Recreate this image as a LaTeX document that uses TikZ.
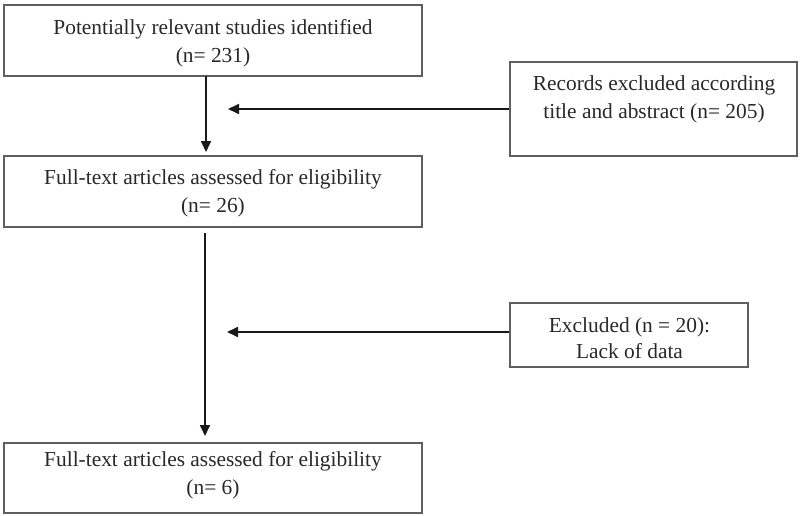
\documentclass[tikz,border=0pt]{standalone}
\usepackage{fontspec}
\setmainfont{Liberation Serif}
\usetikzlibrary{arrows.meta}
\definecolor{boxgray}{RGB}{95,95,95}
\definecolor{txtgray}{RGB}{40,40,40}
\definecolor{linegray}{RGB}{25,25,25}
\begin{document}
\begin{tikzpicture}[x=1pt,y=-1pt,
  box/.style={draw=boxgray, line width=1.8pt, inner sep=0pt, fill=none},
  txt/.style={align=center, inner sep=0pt, text=txtgray, font=\fontsize{21.4}{28}\selectfont},
  conn/.style={draw=linegray, line width=1.7pt, -{Triangle[length=11pt,width=10pt]}}]
\useasboundingbox (0,0) rectangle (800,516);
% boxes
\node[box, minimum width=418, minimum height=71] (b1) at (213,40.5) {};
\node[box, minimum width=287, minimum height=94] (b2) at (653.5,109) {};
\node[box, minimum width=418, minimum height=71] (b3) at (213,191.5) {};
\node[box, minimum width=238, minimum height=64] (b4) at (629,335) {};
\node[box, minimum width=418, minimum height=70] (b5) at (213,478) {};
% texts
\node[txt] (t1) at (213,43) {Potentially relevant studies identified\\(n= 231)};
\node[txt] (t2) at (654,99) {Records excluded according\\title and abstract (n= 205)};
\node[txt] (t3) at (213,193.5) {Full-text articles assessed for eligibility\\(n= 26)};
\node[txt, font=\fontsize{21.4}{26}\selectfont] (t4) at (629.5,338) {Excluded (n = 20):\\Lack of data};
\node[txt] (t5) at (213,475) {Full-text articles assessed for eligibility\\(n= 6)};
% connector end points
\coordinate (a1s) at (206,76);
\coordinate (a1e) at (206,152);
\coordinate (h1e) at (228,109);
\coordinate (a2s) at (205,233);
\coordinate (a2e) at (205,436);
\coordinate (h2e) at (227,332);
% connectors
\draw[conn] (a1s) -- (a1e);
\draw[conn] (b2.west |- h1e) -- (h1e);
\draw[conn] (a2s) -- (a2e);
\draw[conn] (b4.west |- h2e) -- (h2e);
\end{tikzpicture}
\end{document}
